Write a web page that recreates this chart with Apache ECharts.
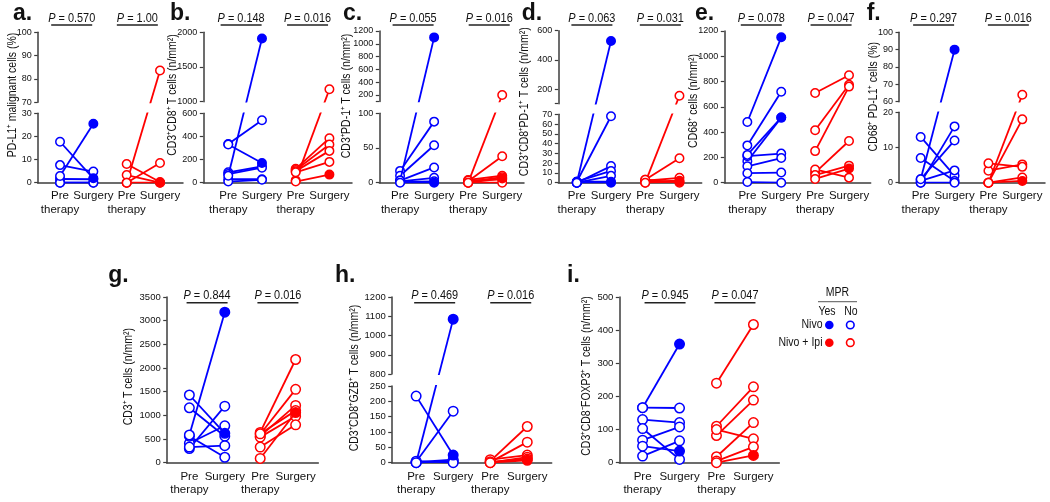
<!DOCTYPE html>
<html><head><meta charset="utf-8">
<script src="https://cdn.jsdelivr.net/npm/echarts@6/dist/echarts.min.js"></script>
<style>html,body{margin:0;padding:0;background:#fff}#c{width:1050px;height:502px}</style>
</head><body><div id="c"></div>
<script>
// ---------------- DATA ----------------
const xLabels = ['Pre\ntherapy', 'Surgery', 'Pre\ntherapy', 'Surgery'];

// a. PD-L1+ malignant cells (%)
const aNivoPre  = [2.9, 17.7, 7.6, 1.6, 0, 0];
const aNivoSurg = [25.5, 1.9, 4.8, 1.5, 0, 0];
const aNivoMPR  = [1, 1, 0, 0, 0, 0];
const aIpiPre   = [0, 8.1, 3.3, 0, 0];
const aIpiSurg  = [83.6, 0.3, 0, 8.5, 0];
const aIpiMPR   = [0, 1, 0, 0, 0];
const aLowerTicks = [0, 10, 20, 30];
const aUpperTicks = [70, 80, 90, 100];
const aP = ['0.570', '1.00'];

// b. CD3+CD8+ T cells
const bNivoPre  = [60, 335, 330, 90, 75, 30, 10];
const bNivoSurg = [1910, 540, 170, 140, 130, 30, 25];
const bNivoMPR  = [1, 0, 1, 0, 0, 0, 0];
const bIpiPre   = [20, 120, 110, 100, 90, 10];
const bIpiSurg  = [1180, 385, 330, 275, 180, 70];
const bIpiMPR   = [0, 0, 0, 0, 0, 1];
const bLowerTicks = [0, 200, 400, 600];
const bUpperTicks = [1000, 1500, 2000];
const bP = ['0.148', '0.016'];

// c. CD3+PD-1+ T cells
const cNivoPre  = [3, 17, 10, 3, 2, 1, 0];
const cNivoSurg = [1100, 88, 54, 22, 7, 2, 0];
const cNivoMPR  = [1, 0, 0, 0, 0, 0, 1];
const cIpiPre   = [0, 2, 4, 1, 0, 3, 0];
const cIpiSurg  = [200, 38, 10, 8, 6, 5, 0];
const cIpiMPR   = [0, 0, 0, 0, 1, 0, 0];
const cLowerTicks = [0, 50, 100];
const cUpperTicks = [100, 200, 400, 600, 800, 1000, 1200];
const cUpperLabels = [200, 400, 600, 800, 1000, 1200];
const cP = ['0.055', '0.016'];

// d. CD3+CD8+PD-1+ T cells
const dNivoPre  = [0, 1, 0, 1, 0, 1, 0];
const dNivoSurg = [530, 68, 17, 12, 7, 1, 0];
const dNivoMPR  = [1, 0, 0, 0, 0, 0, 1];
const dIpiPre   = [0, 3, 2, 1, 0, 3];
const dIpiSurg  = [155, 25, 5, 2, 1, 0];
const dIpiMPR   = [0, 0, 0, 0, 1, 0];
const dLowerTicks = [0, 10, 20, 30, 40, 50, 60, 70];
const dUpperTicks = [100, 200, 400, 600];
const dUpperLabels = [200, 400, 600];
const dP = ['0.063', '0.031'];

// e. CD68+ cells
const eNivoPre  = [480, 295, 220, 170, 210, 130, 75, 5];
const eNivoSurg = [1150, 720, 515, 515, 230, 195, 80, 0];
const eNivoMPR  = [1, 0, 1, 0, 0, 0, 0, 0];
const eIpiPre   = [710, 415, 250, 80, 105, 60, 30];
const eIpiSurg  = [850, 775, 760, 330, 40, 135, 112];
const eIpiMPR   = [0, 0, 0, 0, 0, 0, 1];
const eTicks = [0, 200, 400, 600, 800, 1000, 1200];
const eP = ['0.078', '0.047'];

// f. CD68+ PD-L1+ cells (%)
const fNivoPre  = [1, 13, 7, 0, 1, 0.5, 0];
const fNivoSurg = [90, 2, 0.5, 16, 12, 3.5, 0];
const fNivoMPR  = [1, 0, 0, 0, 0, 0, 0];
const fIpiPre   = [0, 0, 3.4, 5.5, 0, 0];
const fIpiSurg  = [64, 18, 5.2, 4.5, 1.5, 0.5];
const fIpiMPR   = [0, 0, 0, 0, 0, 1];
const fLowerTicks = [0, 10, 20];
const fUpperTicks = [60, 70, 80, 90, 100];
const fP = ['0.297', '0.016'];

// g. CD3+ T cells
const gNivoPre  = [585, 1430, 1160, 300, 410, 330, 560];
const gNivoSurg = [3180, 620, 560, 1195, 780, 360, 115];
const gNivoMPR  = [1, 1, 0, 0, 0, 0, 0];
const gIpiPre   = [640, 600, 560, 540, 330, 90, 610];
const gIpiSurg  = [2180, 1550, 1210, 980, 800, 1060, 1100];
const gIpiMPR   = [0, 0, 0, 0, 0, 1, 0];
const gTicks = [0, 500, 1000, 1500, 2000, 2500, 3000, 3500];
const gP = ['0.844', '0.016'];

// h. CD3+CD8+GZB+ T cells
const hNivoPre  = [0, 217, 3, 2, 0, 5];
const hNivoSurg = [1085, 25, 168, 10, 5, 0];
const hNivoMPR  = [1, 1, 0, 0, 0, 0];
const hIpiPre   = [5, 2, 10, 0, 3, 0];
const hIpiSurg  = [118, 67, 25, 18, 12, 8];
const hIpiMPR   = [0, 0, 0, 0, 0, 1];
const hLowerTicks = [0, 50, 100, 150, 200, 250];
const hUpperTicks = [800, 900, 1000, 1100, 1200];
const hP = ['0.469', '0.016'];

// i. CD3+CD8-FOXP3+ T cells
const iNivoPre  = [166, 166, 130, 103, 68, 50, 20];
const iNivoSurg = [358, 165, 121, 10, 108, 35, 66];
const iNivoMPR  = [1, 0, 0, 0, 0, 1, 0];
const iIpiPre   = [240, 110, 82, 100, 18, 5, 0];
const iIpiSurg  = [417, 229, 189, 72, 121, 48, 22];
const iIpiMPR   = [0, 0, 0, 0, 0, 0, 1];
const iTicks = [0, 100, 200, 300, 400, 500];
const iP = ['0.945', '0.047'];

// ---------------- STYLE / LAYOUT ----------------
const FONT = "'Liberation Sans',Arial,sans-serif";
const BLUE = '#0000ff', RED = '#ff0000', AX = '#3c3c3c', TXT = '#111111';
const NARROW = 0.84;   // horizontal squeeze of annotation texts

const T = {tickFont: 9, xFont: 11.5, xLH: 13.3, xMargin: 6.7, sym: 8.5, pText: 18.3, pBar: 25, letterY: 13.7};
const B = {tickFont: 9.5, xFont: 11.5, xLH: 12.7, xMargin: 7.6, sym: 9.5, pText: 295.7, pBar: 302.7, letterY: 275.3};

const panels = [
  {letter: 'a.', yName: 'PD-L1⁺ malignant cells (%)', p: aP, nivo: [aNivoPre, aNivoSurg, aNivoMPR], ipi: [aIpiPre, aIpiSurg, aIpiMPR],
   lower: aLowerTicks, upper: aUpperTicks, row: T,
   L: {left: 37.7, width: 145.3, xmin: -0.67, xmax: 3.69, up: [32.3, 70], lo: [113.3, 69.4], name: [12.3, 95], lx: 13, pOff: [-5, -6]}},
  {letter: 'b.', yName: 'CD3⁺CD8⁺ T cells (n/mm²)', p: bP, nivo: [bNivoPre, bNivoSurg, bNivoMPR], ipi: [bIpiPre, bIpiSurg, bIpiMPR],
   lower: bLowerTicks, upper: bUpperTicks, row: T,
   L: {left: 203.3, width: 148.7, xmin: -0.74, xmax: 3.67, up: [32.3, 69.4], lo: [113.3, 69.4], name: [173, 95], lx: 170, pOff: [-4, -5]}},
  {letter: 'c.', yName: 'CD3⁺PD-1⁺ T cells (n/mm²)', p: cP, nivo: [cNivoPre, cNivoSurg, cNivoMPR], ipi: [cIpiPre, cIpiSurg, cIpiMPR],
   lower: cLowerTicks, upper: cUpperTicks, upperLabels: cUpperLabels, row: T,
   L: {left: 379.3, width: 144.7, xmin: -0.61, xmax: 3.64, up: [31, 70.4], lo: [113.3, 69.4], name: [346.7, 96], lx: 343, pOff: [-4, 4]}},
  {letter: 'd.', yName: 'CD3⁺CD8⁺PD-1⁺ T cells (n/mm²)', p: dP, nivo: [dNivoPre, dNivoSurg, dNivoMPR], ipi: [dIpiPre, dIpiSurg, dIpiMPR],
   lower: dLowerTicks, upper: dUpperTicks, upperLabels: dUpperLabels, row: T,
   L: {left: 558.3, width: 143.4, xmin: -0.54, xmax: 3.65, up: [30.7, 73], lo: [114.3, 68.4], name: [525, 101.7], lx: 521.7, pOff: [-2, -2]}},
  {letter: 'e.', yName: 'CD68⁺ cells (n/mm²)', p: eP, nivo: [eNivoPre, eNivoSurg, eNivoMPR], ipi: [eIpiPre, eIpiSurg, eIpiMPR],
   lower: eTicks, row: T,
   L: {left: 724.3, width: 146.4, xmin: -0.68, xmax: 3.64, lo: [31, 151.7], name: [693.3, 101], lx: 695, pOff: [-3, -1]}},
  {letter: 'f.', yName: 'CD68⁺ PD-L1⁺ cells (%)', p: fP, nivo: [fNivoPre, fNivoSurg, fNivoMPR], ipi: [fIpiPre, fIpiSurg, fIpiMPR],
   lower: fLowerTicks, upper: fUpperTicks, row: T,
   L: {left: 899, width: 146, xmin: -0.64, xmax: 3.67, up: [32.3, 69.4], lo: [112.3, 70.4], name: [873.3, 96.7], lx: 866.7, pOff: [-4, 3]}},
  {letter: 'g.', yName: 'CD3⁺ T cells (n/mm²)', p: gP, nivo: [gNivoPre, gNivoSurg, gNivoMPR], ipi: [gIpiPre, gIpiSurg, gIpiMPR],
   lower: gTicks, row: B,
   L: {left: 166.7, width: 151.6, xmin: -0.64, xmax: 3.64, lo: [297, 165.7], name: [128.3, 376.7], lx: 108.3, pOff: [0, 0]}},
  {letter: 'h.', yName: 'CD3⁺CD8⁺GZB⁺ T cells (n/mm²)', p: hP, nivo: [hNivoPre, hNivoSurg, hNivoMPR], ipi: [hIpiPre, hIpiSurg, hIpiMPR],
   lower: hLowerTicks, upper: hUpperTicks, row: B,
   L: {left: 391.7, width: 160, xmin: -0.66, xmax: 3.66, up: [297, 77], lo: [386, 76.7], name: [355, 378], lx: 335, pOff: [0, 2]}},
  {letter: 'i.', yName: 'CD3⁺CD8⁻FOXP3⁺ T cells (n/mm²)', p: iP, nivo: [iNivoPre, iNivoSurg, iNivoMPR], ipi: [iIpiPre, iIpiSurg, iIpiMPR],
   lower: iTicks, row: B,
   L: {left: 619.3, width: 160, xmin: -0.63, xmax: 3.70, lo: [297, 165.7], name: [586.7, 376], lx: 567, pOff: [4, 0]}}
];

// ---------------- BUILD ----------------
const grid = [], xAxis = [], yAxis = [], series = [], graphic = [];

function buildPanel(P) {
  const L = P.L, R = P.row;
  const lowR = [P.lower[0], P.lower[P.lower.length - 1]];
  const upR = P.upper ? [P.upper[0], P.upper[P.upper.length - 1]] : null;
  const gap = P.upper ? L.lo[0] - (L.up[0] + L.up[1]) : 0;
  // continuous position (px above the axis bottom) across the broken axis
  const vpos = v => {
    if (!upR || v <= lowR[1]) return (v - lowR[0]) / (lowR[1] - lowR[0]) * L.lo[1];
    return L.lo[1] + gap + (v - upR[0]) / (upR[1] - upR[0]) * L.up[1];
  };
  const segs = [{range: lowR, ticks: P.lower, labels: P.lower, top: L.lo[0], h: L.lo[1], base: 0, main: true}];
  if (upR) segs.push({range: upR, ticks: P.upper, labels: P.upperLabels || P.upper, top: L.up[0], h: L.up[1], base: L.lo[1] + gap, main: false});

  segs.forEach(s => {
    const gi = grid.length;
    grid.push({left: L.left, top: s.top, width: L.width, height: s.h, containLabel: false});
    const xLab = vals => ({customValues: vals, formatter: v => xLabels[Math.round(v)], interval: 0,
        showMinLabel: true, showMaxLabel: true, hideOverlap: false,
        color: TXT, fontFamily: FONT, fontSize: R.xFont, lineHeight: R.xLH, margin: R.xMargin});
    const xi = xAxis.length;
    xAxis.push({
      type: 'value', gridIndex: gi, position: 'bottom', min: L.xmin, max: L.xmax, show: s.main,
      axisLine: {show: true, onZero: false, lineStyle: {color: AX, width: 1.5}},
      axisTick: {show: false}, splitLine: {show: false}, axisLabel: xLab([0, 2])
    });
    if (s.main) {
      xAxis.push({
        type: 'value', gridIndex: gi, position: 'bottom', min: L.xmin, max: L.xmax,
        axisLine: {show: false}, axisTick: {show: false}, splitLine: {show: false}, axisLabel: xLab([1, 3])
      });
    }
    yAxis.push({
      type: 'value', gridIndex: gi, min: s.range[0], max: s.range[1],
      axisLine: {show: true, onZero: false, lineStyle: {color: AX, width: 1.5}},
      axisTick: {show: true, customValues: s.ticks, length: 3.5, lineStyle: {color: AX, width: 1.2}},
      axisLabel: {customValues: s.labels, interval: 0, showMinLabel: true, showMaxLabel: true, hideOverlap: false,
        formatter: v => String(v), color: TXT, fontFamily: FONT, fontSize: R.tickFont, margin: 6},
      splitLine: {show: false}
    });
    const toSeg = v => s.range[0] + (vpos(v) - s.base) / s.h * (s.range[1] - s.range[0]);
    const addArm = (arm, color, x0) => {
      const [pre, surg, mpr] = arm;
      const order = pre.map((_, k) => k).sort((u, w) => mpr[u] - mpr[w]);
      order.forEach(k => {
        const open = {color: '#ffffff', borderColor: color, borderWidth: 1.5};
        const fill = {color: color, borderColor: color, borderWidth: 1.5};
        series.push({
          type: 'line', xAxisIndex: xi, yAxisIndex: gi, clip: true, silent: true, animation: false,
          symbol: 'circle', symbolSize: R.sym, showSymbol: true, showAllSymbol: true,
          lineStyle: {color: color, width: 1.8}, itemStyle: {color: color},
          emphasis: {disabled: true}, z: mpr[k] ? 3 : 2,
          data: [
            {value: [x0, toSeg(pre[k])], itemStyle: open},
            {value: [x0 + 1, toSeg(surg[k])], itemStyle: mpr[k] ? fill : open}
          ]
        });
      });
    };
    addArm(P.nivo, BLUE, 0);
    addArm(P.ipi, RED, 2);
  });

  // annotations
  const px = x => L.left + (x - L.xmin) / (L.xmax - L.xmin) * L.width;
  [0, 1].forEach(j => {
    const cx = (px(2 * j) + px(2 * j + 1)) / 2 + L.pOff[j];
    graphic.push({type: 'line', silent: true, shape: {x1: cx - 20.5, y1: R.pBar, x2: cx + 20.5, y2: R.pBar},
      style: {stroke: '#222', lineWidth: 1.5}});
    graphic.push({type: 'text', silent: true, x: cx, y: R.pText, scaleX: NARROW,
      style: {text: '{i|P} = ' + P.p[j], rich: {i: {fontStyle: 'italic', fontFamily: FONT, fontSize: 13, fill: TXT}},
        fontFamily: FONT, fontSize: 13, fill: TXT, align: 'center', verticalAlign: 'middle'}});
  });
  graphic.push({type: 'text', silent: true, x: L.name[0], y: L.name[1], rotation: Math.PI / 2, scaleX: NARROW,
    style: {text: P.yName, fontFamily: FONT, fontSize: 12.5, fill: TXT, align: 'center', verticalAlign: 'middle'}});
  graphic.push({type: 'text', silent: true, x: L.lx, y: R.letterY,
    style: {text: P.letter, fontFamily: FONT, fontWeight: 'bold', fontSize: 23, fill: TXT, align: 'left', verticalAlign: 'middle'}});
}
panels.forEach(buildPanel);

// legend (MPR Yes/No)
const legendRows = [['Nivo', BLUE, 325], ['Nivo + Ipi', RED, 342.7]];
const lt = (x, y, text, align) => graphic.push({type: 'text', silent: true, x: x, y: y, scaleX: NARROW,
  style: {text: text, fontFamily: FONT, fontSize: 12.5, fill: TXT, align: align, verticalAlign: 'middle'}});
lt(837.5, 293, 'MPR', 'center');
graphic.push({type: 'line', silent: true, shape: {x1: 818, y1: 301.7, x2: 857, y2: 301.7}, style: {stroke: '#777', lineWidth: 1.2}});
lt(827, 311.7, 'Yes', 'center');
lt(851, 311.7, 'No', 'center');
legendRows.forEach(([lab, col, y]) => {
  lt(822.5, y, lab, 'right');
  graphic.push({type: 'circle', silent: true, shape: {cx: 829.3, cy: y, r: 4.3}, style: {fill: col}});
  graphic.push({type: 'circle', silent: true, shape: {cx: 850.3, cy: y, r: 3.8}, style: {fill: '#fff', stroke: col, lineWidth: 1.6}});
});

const chart = echarts.init(document.getElementById('c'), null, {renderer: 'canvas'});
chart.setOption({
  backgroundColor: '#ffffff',
  animation: false,
  tooltip: {show: false},
  grid, xAxis, yAxis, series, graphic
});
</script>
</body></html>
